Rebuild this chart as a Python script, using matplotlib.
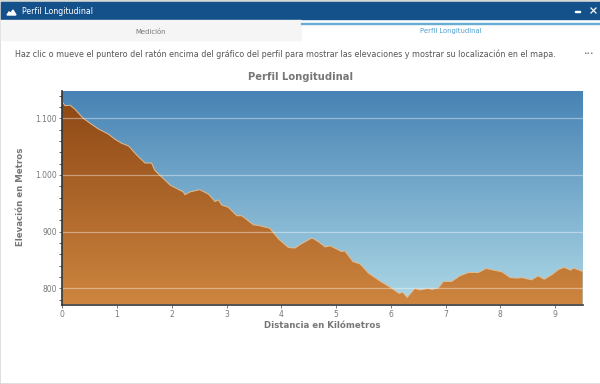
import numpy as np
import matplotlib
matplotlib.use("Agg")
import matplotlib.pyplot as plt
from matplotlib.colors import LinearSegmentedColormap
from matplotlib.patches import Polygon, Rectangle
from matplotlib.ticker import FuncFormatter, MultipleLocator

W, H = 600, 384

distance_km = [0, .05, .14, .23, .38, .51, .66, .84, .96, 1.08, 1.21, 1.36, 1.51, 1.63, 1.69,
               1.84, 1.97, 2.21, 2.24, 2.33, 2.51, 2.67, 2.79, 2.85, 2.91, 3.03, 3.19, 3.28,
               3.49, 3.58, 3.79, 3.95, 4.13, 4.25, 4.34, 4.56, 4.68, 4.80, 4.89, 5.10, 5.16,
               5.31, 5.44, 5.59, 5.80, 6.02, 6.15, 6.22, 6.30, 6.44, 6.53, 6.68, 6.75, 6.87,
               6.96, 7.11, 7.26, 7.42, 7.60, 7.74, 8.03, 8.18, 8.30, 8.39, 8.57, 8.69, 8.80,
               8.94, 9.06, 9.16, 9.29, 9.33, 9.50]
elevation_m = [1129, 1122, 1123, 1116, 1100, 1091, 1081, 1072, 1063, 1056, 1051, 1035, 1021, 1021, 1008,
               994, 982, 970, 965, 970, 974, 966, 953, 956, 947, 943, 928, 928,
               912, 911, 906, 887, 872, 871, 877, 889, 882, 873, 875, 865, 866,
               847, 843, 827, 813, 800, 791, 793, 784, 800, 797, 800, 798, 801,
               812, 812, 822, 828, 828, 835, 829, 819, 818, 819, 815, 822, 816,
               824, 833, 837, 832, 836, 830]
y_major = [800, 900, 1000, 1100]
x_major = [0, 1, 2, 3, 4, 5, 6, 7, 8, 9]
x_limits = (0, 9.5)
y_limits = (771.5, 1148)

title_text = "Perfil Longitudinal"
xlabel_text = "Distancia en Kilómetros"
ylabel_text = "Elevación en Metros"
help_text = ("Haz clic o mueve el puntero del ratón encima del gráfico del perfil "
             "para mostrar las elevaciones y mostrar su localización en el mapa.")

plt.rcParams["font.family"] = "DejaVu Sans"
fig = plt.figure(figsize=(W / 100, H / 100), dpi=100)

# window around the chart, in pixels
bg = fig.add_axes([0, 0, 1, 1])
bg.set_xlim(0, W)
bg.set_ylim(H, 0)
bg.axis("off")
bg.add_patch(Rectangle((0, 0), W, H, color="#d6d8d6"))
bg.add_patch(Rectangle((1, 19), W - 1, H - 21, color="white"))
bg.add_patch(Rectangle((1, 2), W - 1, 17, color="#14508a"))
bg.add_patch(Rectangle((1, 20), 300, 20, color="#f5f5f5"))
bg.add_patch(Rectangle((301, 23), W - 301, 1, color="#6aabd2"))
bg.add_patch(Polygon([(7, 15), (9, 12), (11, 13), (13, 10), (16, 15)], color="white"))
bg.add_patch(Rectangle((575, 10.5), 5, 1.2, color="white"))
bg.plot([591, 596], [8, 13], color="white", lw=0.9)
bg.plot([591, 596], [13, 8], color="white", lw=0.9)
bg.text(22, 11.5, "Perfil Longitudinal", color="white", fontsize=5.65, va="center")
bg.text(151, 31.5, "Medición", color="#777777", fontsize=4.95, ha="center", va="center")
bg.text(451, 31.5, "Perfil Longitudinal", color="#4f9fd0", fontsize=4.95, ha="center", va="center")
bg.text(15, 54.5, help_text, color="#555555", fontsize=5.76, va="center")
bg.text(588, 53.5, "•••", color="#777777", fontsize=4.4, ha="center", va="center")
bg.text(301, 76.5, title_text, color="#777777", fontsize=7.2, fontweight="bold", ha="center", va="center")

left, right, top, bottom = 62.3, 582.5, 91, 304.5
ax = fig.add_axes([left / W, 1 - bottom / H, (right - left) / W, (bottom - top) / H])

sky = LinearSegmentedColormap.from_list("sky", ["#4682b4", "#add8e6"])
ground = LinearSegmentedColormap.from_list("ground", ["#8b4513", "#cd853f"])
grad = np.linspace(0, 1, 256).reshape(-1, 1)
extent = [*x_limits, *y_limits]
ax.imshow(grad, cmap=sky, extent=extent, origin="upper", aspect="auto", zorder=1)
im = ax.imshow(grad, cmap=ground, extent=extent, origin="upper", aspect="auto", zorder=2)
area = ax.fill_between(distance_km, elevation_m, y_limits[0], color="none")
im.set_clip_path(area.get_paths()[0], transform=ax.transData)
ax.set_xlim(*x_limits)
ax.set_ylim(*y_limits)

ax.plot(distance_km, elevation_m, color="#e0bd94", lw=0.7, zorder=3)
for v in y_major:
    ax.axhline(v, color="white", alpha=0.4, lw=0.9, zorder=4)

ax.set_xticks(x_major)
ax.set_yticks(y_major)
ax.yaxis.set_minor_locator(MultipleLocator(20))
ax.yaxis.set_major_formatter(FuncFormatter(lambda v, _: f"{v:,.0f}".replace(",", ".")))
ax.tick_params(axis="both", which="major", labelsize=5.5, labelcolor="#777777", color="#777777",
               length=2.5, width=0.7, pad=1.5)
ax.tick_params(axis="y", which="minor", color="#555555", length=2.5, width=0.7)
for name in ("top", "right"):
    ax.spines[name].set_visible(False)
for name in ("left", "bottom"):
    ax.spines[name].set_color("#333333")
    ax.spines[name].set_linewidth(1.2)
    ax.spines[name].set_zorder(6)

bg.text(322.5, 325.5, xlabel_text, color="#777777", fontsize=6.2, fontweight="bold", ha="center", va="center")
bg.text(21, 197, ylabel_text, color="#777777", fontsize=6.2, fontweight="bold", rotation=90, ha="center", va="center")

fig.savefig("out.png", dpi=100)
